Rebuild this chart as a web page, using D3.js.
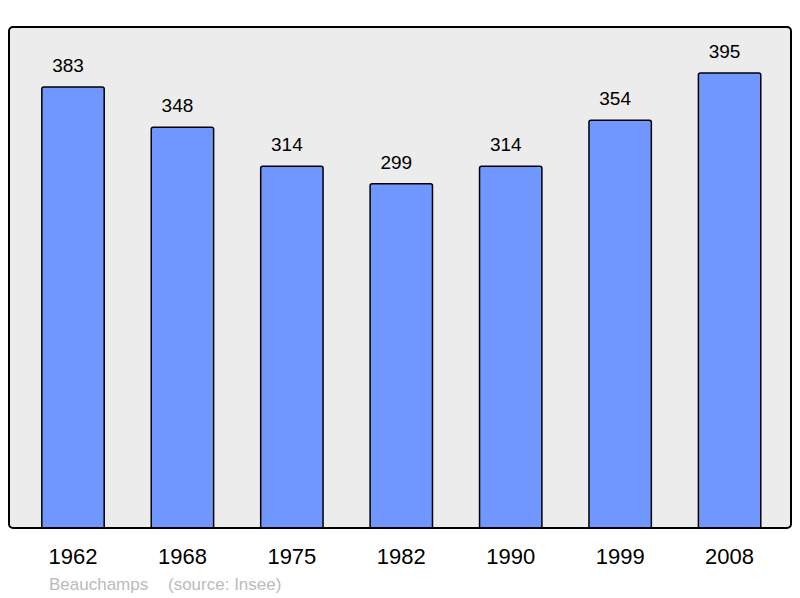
<!DOCTYPE html>
<html>
<head>
<meta charset="utf-8">
<script src="https://cdn.jsdelivr.net/npm/d3@7"></script>
<style>
body{margin:0;background:#fff;}
svg text{font-family:"Liberation Sans",Arial,sans-serif;}
</style>
</head>
<body>
<svg id="chart" width="800" height="598"></svg>
<script>
var years = ['1962','1968','1975','1982','1990','1999','2008'];
var population = [383,348,314,299,314,354,395];
var town = 'Beauchamps';
var source = '(source: Insee)';

var svg = d3.select('#chart');
var panel = {left:9, top:27, right:791, bottom:528};

svg.append('clipPath')
	.attr('id','panelclip')
	.append('rect')
	.attr('x',panel.left)
	.attr('y',panel.top)
	.attr('width',panel.right-panel.left)
	.attr('height',panel.bottom-panel.top);

// fond gris
svg.append('rect')
	.attr('x',panel.left)
	.attr('y',panel.top)
	.attr('width',panel.right-panel.left)
	.attr('height',panel.bottom-panel.top)
	.attr('rx',4)
	.style('fill','#ececec')
	.style('stroke','none');

var x = d3.scaleBand()
	.domain(years)
	.range([18.3,784.3])
	.paddingInner(0.43)
	.paddingOuter(0.215);

var y = d3.scaleLinear()
	.domain([0,435])
	.range([panel.bottom,panel.top]);

svg.append('g')
	.attr('clip-path','url(#panelclip)')
	.selectAll('rect.bar')
	.data(population)
	.enter()
	.append('rect')
	.attr('class','bar')
	.attr('x',function(d,i){ return x(years[i]); })
	.attr('y',function(d){ return y(d); })
	.attr('width',x.bandwidth())
	.attr('height',function(d){ return y(0)-y(d)+6; })
	.attr('rx',2)
	.style('fill','#7097ff')
	.style('stroke','#000')
	.style('stroke-width',1.5);

// les etiquettes sont un peu decalees a gauche dans l'original
svg.selectAll('text.value')
	.data(population)
	.enter()
	.append('text')
	.attr('class','value')
	.attr('x',function(d,i){ return x(years[i])+x.bandwidth()/2-5; })
	.attr('y',function(d){ return y(d)-15; })
	.attr('text-anchor','middle')
	.style('font-size','19px')
	.style('fill','#000')
	.text(function(d){ return d; });

// cadre
svg.append('rect')
	.attr('x',panel.left)
	.attr('y',panel.top)
	.attr('width',panel.right-panel.left)
	.attr('height',panel.bottom-panel.top)
	.attr('rx',4)
	.style('fill','none')
	.style('stroke','#000')
	.style('stroke-width',2);

var xAxis = d3.axisBottom(x).tickSize(0).tickPadding(0);
var g = svg.append('g')
	.attr('transform','translate(0,'+(panel.bottom+36)+')')
	.call(xAxis);
g.select('.domain').remove();
g.selectAll('text')
	.attr('dy',0)
	.attr('y',0)
	.style('font-size','22px')
	.style('fill','#000')
	.style('font-family','"Liberation Sans",Arial,sans-serif');

svg.append('text')
	.attr('x',49)
	.attr('y',590)
	.style('font-size','17px')
	.style('fill','#bbb')
	.text(town);
svg.append('text')
	.attr('x',168)
	.attr('y',590)
	.style('font-size','17px')
	.style('fill','#bbb')
	.text(source);
</script>
</body>
</html>
